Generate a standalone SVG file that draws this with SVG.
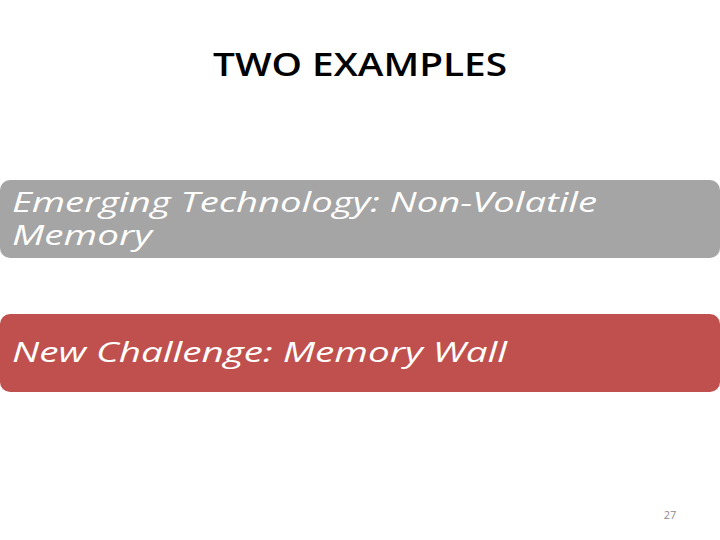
<svg xmlns="http://www.w3.org/2000/svg" width="720" height="540" viewBox="0 0 720 540">
<style>
.t{font-family:"Open Sans","Liberation Sans",sans-serif;}
.b{font-family:"Open Sans","Liberation Sans",sans-serif;font-style:italic;font-size:28px;fill:#ffffff;}
</style>
<rect width="720" height="540" fill="#ffffff"/>
<text class="t" x="360" y="76" text-anchor="middle" font-size="32" font-weight="600" fill="#000" textLength="294" lengthAdjust="spacingAndGlyphs">TWO EXAMPLES</text>
<g id="node1">
<rect x="0" y="180" width="720" height="78" rx="10" fill="#a5a5a5"/>
<text class="b" x="12" y="212" textLength="585" lengthAdjust="spacingAndGlyphs">Emerging Technology: Non-Volatile</text>
<text class="b" x="12" y="245" textLength="140" lengthAdjust="spacingAndGlyphs">Memory</text>
</g>
<g id="node2">
<rect x="0" y="314" width="720" height="78" rx="10" fill="#c0504d"/>
<text class="b" x="12" y="362" textLength="495" lengthAdjust="spacingAndGlyphs">New Challenge: Memory Wall</text>
</g>
<g id="connectors"/>
<text class="t" x="670" y="519" text-anchor="middle" font-size="11" fill="#8c8c8c">27</text>
</svg>
